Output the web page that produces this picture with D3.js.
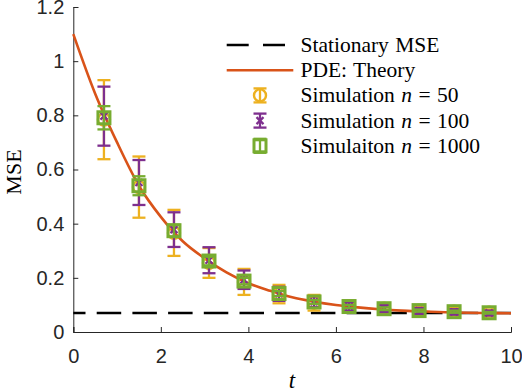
<!DOCTYPE html>
<html>
<head>
<meta charset="utf-8">
<script src="https://cdn.jsdelivr.net/npm/d3@7"></script>
<style>
  body { margin: 0; background: #fff; }
  svg { display: block; }
  .tick text { font-family: "Liberation Sans", Arial, Helvetica, sans-serif; font-size: 20px; fill: #262626; }
  .lbl { font-family: "Liberation Serif", "DejaVu Serif", serif; fill: #000; }
</style>
</head>
<body>
<div id="chart"></div>
<script>
// theory curve
var curveT = [0, 0.5, 1, 1.5, 2, 2.5, 3, 3.5, 4, 4.5, 5, 5.5, 6, 6.5, 7, 7.5, 8, 8.5, 9, 9.5, 10];
var curveV = [1.100, 0.880, 0.700, 0.540, 0.425, 0.335, 0.272, 0.220, 0.180, 0.152, 0.128, 0.112,
              0.100, 0.091, 0.084, 0.079, 0.076, 0.073, 0.071, 0.070, 0.069];

var stationary = 0.07;

// simulation points
var simT = [0.7, 1.5, 2.3, 3.1, 3.9, 4.7, 5.5, 6.3, 7.1, 7.9, 8.7, 9.5];
var mean50 = [0.784, 0.535, 0.366, 0.255, 0.185, 0.140, 0.108, 0.094, 0.086, 0.079, 0.075, 0.071];
var err50 = [0.146, 0.113, 0.085, 0.055, 0.048, 0.034, 0.029, 0.022, 0.018, 0.015, 0.013, 0.012];
var mean100 = [0.797, 0.552, 0.378, 0.265, 0.193, 0.141, 0.112, 0.095, 0.086, 0.078, 0.074, 0.070];
var err100 = [0.109, 0.083, 0.064, 0.048, 0.034, 0.026, 0.020, 0.016, 0.013, 0.011, 0.010, 0.009];
var mean1000 = [0.791, 0.540, 0.374, 0.262, 0.188, 0.142, 0.111, 0.094, 0.086, 0.079, 0.075, 0.071];
var err1000 = [0.043, 0.035, 0.022, 0.016, 0.012, 0.009, 0.007, 0.006, 0.005, 0.004, 0.004, 0.003];

var xTicks = [0, 2, 4, 6, 8, 10];
var yTicks = [0, 0.2, 0.4, 0.6, 0.8, 1, 1.2];

var width = 522, height = 392;
var plotLeft = 73.3, plotRight = 511, plotTop = 7, plotBottom = 332;

var svg = d3.select("#chart").append("svg")
    .attr("width", width)
    .attr("height", height);

var x = d3.scaleLinear().domain([0, 10]).range([plotLeft, plotRight]);
var y = d3.scaleLinear().domain([0, 1.2]).range([plotBottom, plotTop]);

// axes (box off, ticks inward)
var xAxis = svg.append("g")
    .attr("transform", "translate(0," + plotBottom + ")")
    .call(d3.axisBottom(x).tickValues(xTicks).tickSize(-5).tickPadding(17).tickFormat(d3.format("")));
var yAxis = svg.append("g")
    .attr("transform", "translate(" + plotLeft + ",0)")
    .call(d3.axisLeft(y).tickValues(yTicks).tickSize(-5).tickPadding(9).tickFormat(d3.format("")));
[xAxis, yAxis].forEach(function(a) {
    a.select(".domain").attr("stroke", "#262626").attr("stroke-width", 1);
    a.selectAll(".tick line").attr("stroke", "#262626");
});

// stationary MSE
svg.append("line")
    .attr("x1", x(0)).attr("x2", x(10))
    .attr("y1", y(stationary)).attr("y2", y(stationary))
    .attr("stroke", "#000")
    .attr("stroke-width", 2.6)
    .attr("stroke-dasharray", "24.5 11.2")
    .attr("stroke-dashoffset", 12.3);

// PDE theory
var line = d3.line()
    .x(function(d, i) { return x(curveT[i]); })
    .y(function(d) { return y(d); })
    .curve(d3.curveMonotoneX);

svg.append("path")
    .attr("d", line(curveV))
    .attr("fill", "none")
    .attr("stroke", "#D95319")
    .attr("stroke-width", 2.6);

var series = [
    { mean: mean50, err: err50, color: "#EDB120", marker: "circle" },
    { mean: mean100, err: err100, color: "#7E2F8E", marker: "x" },
    { mean: mean1000, err: err1000, color: "#77AC30", marker: "square" }
];

function drawMarker(g, type, color) {
    if (type === "circle") {
        g.append("circle").attr("r", 6)
            .attr("fill", "none").attr("stroke", color).attr("stroke-width", 2.4);
    } else if (type === "square") {
        g.append("rect").attr("x", -6).attr("y", -6).attr("width", 12).attr("height", 12)
            .attr("fill", "none").attr("stroke", color).attr("stroke-width", 3);
    } else {
        g.append("path").attr("d", "M-3.5,-3.5L3.5,3.5M-3.5,3.5L3.5,-3.5")
            .attr("fill", "none").attr("stroke", color).attr("stroke-width", 2.2);
    }
}

function drawErrorBar(g, yTop, yBot, color) {
    g.append("line").attr("x1", 0).attr("x2", 0).attr("y1", yTop).attr("y2", yBot)
        .attr("stroke", color).attr("stroke-width", 2.3);
    [yTop, yBot].forEach(function(yy) {
        g.append("line").attr("x1", -6.5).attr("x2", 6.5).attr("y1", yy).attr("y2", yy)
            .attr("stroke", color).attr("stroke-width", 2.3);
    });
}

series.forEach(function(s) {
    var grp = svg.append("g");
    simT.forEach(function(t, i) {
        var cy = y(s.mean[i]);
        var g = grp.append("g").attr("transform", "translate(" + x(t) + "," + cy + ")");
        drawErrorBar(g, y(s.mean[i] + s.err[i]) - cy, y(s.mean[i] - s.err[i]) - cy, s.color);
        drawMarker(g, s.marker, s.color);
    });
});

// labels
svg.append("text")
    .attr("class", "lbl")
    .attr("transform", "translate(21,172) rotate(-90)")
    .attr("text-anchor", "middle")
    .style("font-size", "22px")
    .text("MSE");

svg.append("text")
    .attr("class", "lbl")
    .attr("x", 292).attr("y", 388)
    .attr("text-anchor", "middle")
    .style("font-size", "23px")
    .style("font-style", "italic")
    .text("t");

// legend
var legendRows = [
    { label: ["Stationary MSE"], type: "dash" },
    { label: ["PDE: Theory"], type: "line" },
    { label: ["Simulation ", "n", " = 50"], type: 0 },
    { label: ["Simulation ", "n", " = 100"], type: 1 },
    { label: ["Simulaiton ", "n", " = 1000"], type: 2 }
];

var legend = svg.append("g");
legendRows.forEach(function(r, i) {
    var ly = 45 + i * 25.2;
    if (r.type === "dash") {
        legend.append("line").attr("x1", 226.7).attr("x2", 285).attr("y1", ly).attr("y2", ly)
            .attr("stroke", "#000").attr("stroke-width", 2.6).attr("stroke-dasharray", "22 14.3");
    } else if (r.type === "line") {
        legend.append("line").attr("x1", 226.7).attr("x2", 293.3).attr("y1", ly).attr("y2", ly)
            .attr("stroke", "#D95319").attr("stroke-width", 2.6);
    } else {
        var s = series[r.type];
        var g = legend.append("g").attr("transform", "translate(260," + ly + ")");
        drawErrorBar(g, -7, 7, s.color);
        drawMarker(g, s.marker, s.color);
    }
    var txt = legend.append("text")
        .attr("class", "lbl")
        .attr("x", 300.5).attr("y", ly + 7)
        .style("font-size", "21.5px")
        .style("word-spacing", "1px");
    r.label.forEach(function(part, j) {
        txt.append("tspan").text(part).style("font-style", j === 1 ? "italic" : "normal");
    });
});
</script>
</body>
</html>
